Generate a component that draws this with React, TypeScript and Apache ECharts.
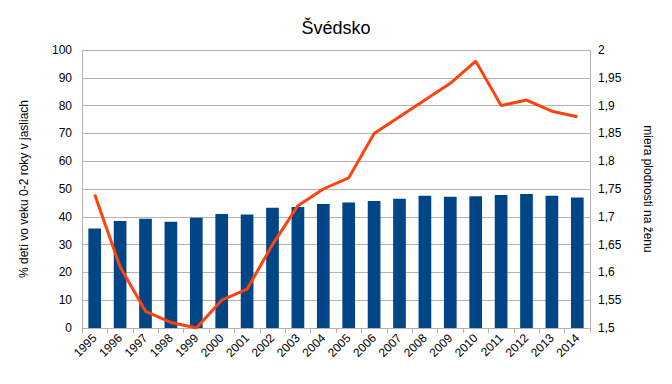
import React, { useEffect, useRef } from "react";
import * as echarts from "echarts";

const years = ["1995","1996","1997","1998","1999","2000","2001","2002","2003","2004","2005","2006","2007","2008","2009","2010","2011","2012","2013","2014"];
const nurseryShare = [35.8, 38.5, 39.3, 38.2, 39.7, 41.0, 40.8, 43.3, 43.5, 44.6, 45.1, 45.7, 46.5, 47.6, 47.2, 47.4, 47.8, 48.2, 47.6, 46.9];
const fertility = [1.74, 1.61, 1.53, 1.51, 1.50, 1.55, 1.57, 1.65, 1.72, 1.75, 1.77, 1.85, 1.88, 1.91, 1.94, 1.98, 1.90, 1.91, 1.89, 1.88];

const FONT = "'Liberation Sans', Arial, sans-serif";

export default function App() {
  const ref = useRef<HTMLDivElement>(null);
  useEffect(() => {
    const chart = echarts.init(ref.current!, null, { renderer: "svg" });
    chart.setOption({
      animation: false,
      textStyle: { fontFamily: FONT },
      title: {
        text: "Švédsko",
        left: "center",
        top: 14,
        textStyle: { fontFamily: FONT, fontSize: 18, fontWeight: "normal", color: "#000" },
      },
      grid: { left: 82, right: 82, top: 50, bottom: 56 },
      xAxis: {
        type: "category",
        data: years,
        axisLine: { lineStyle: { color: "#b3b3b3" } },
        axisTick: { show: true, alignWithLabel: false, length: 5, lineStyle: { color: "#b3b3b3" } },
        axisLabel: { rotate: 45, color: "#000", fontSize: 12, fontFamily: FONT, interval: 0, margin: 8 },
      },
      yAxis: [
        {
          type: "value",
          min: 0,
          max: 100,
          interval: 10,
          name: "% detí vo veku 0-2 roky v jasliach",
          nameLocation: "middle",
          nameGap: 52,
          nameTextStyle: { fontFamily: FONT, fontSize: 12, color: "#000" },
          axisLine: { show: true, lineStyle: { color: "#b3b3b3" } },
          axisTick: { show: false },
          axisLabel: { color: "#000", fontSize: 12, fontFamily: FONT, margin: 10 },
          splitLine: { lineStyle: { color: "#b3b3b3" } },
        },
        {
          type: "value",
          min: 1.5,
          max: 2,
          interval: 0.05,
          name: "miera plodnosti na ženu",
          nameLocation: "middle",
          nameGap: 52,
          nameRotate: 270,
          nameTextStyle: { fontFamily: FONT, fontSize: 12, color: "#000" },
          axisLine: { show: true, lineStyle: { color: "#b3b3b3" } },
          axisTick: { show: false },
          axisLabel: {
            color: "#000",
            fontSize: 12,
            fontFamily: FONT,
            margin: 8,
            formatter: (v: number) => {
              const r = Math.round(v * 100) / 100;
              return String(r).replace(".", ",");
            },
          },
          splitLine: { show: false },
        },
      ],
      series: [
        {
          type: "bar",
          data: nurseryShare,
          yAxisIndex: 0,
          barWidth: "50%",
          itemStyle: { color: "#004586" },
        },
        {
          type: "line",
          data: fertility,
          yAxisIndex: 1,
          symbol: "none",
          lineStyle: { color: "#ff420e", width: 3 },
          itemStyle: { color: "#ff420e" },
        },
      ],
    });
    return () => chart.dispose();
  }, []);
  return <div ref={ref} style={{ width: 672, height: 384, margin: -8 }} />;
}
